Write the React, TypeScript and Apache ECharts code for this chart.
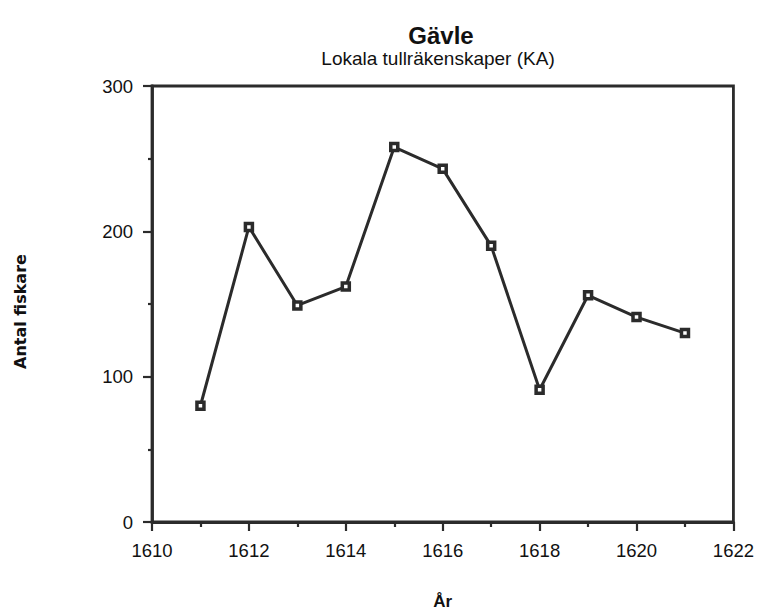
import React, { useEffect, useRef } from "react";
import * as echarts from "echarts";

const years = [1611, 1612, 1613, 1614, 1615, 1616, 1617, 1618, 1619, 1620, 1621];
const fiskare = [80, 203, 149, 162, 258, 243, 190, 91, 156, 141, 130];
const titleText = "Gävle";
const subtitleText = "Lokala tullräkenskaper (KA)";
const yName = "Antal fiskare";
const xName = "År";

const FONT = "'Liberation Sans', Arial, Helvetica, sans-serif";
const INK = "#2b2b2b";

export default function App() {
  const ref = useRef<HTMLDivElement>(null);
  useEffect(() => {
    if (!ref.current) return;
    const chart = echarts.init(ref.current, undefined, { renderer: "svg" });
    chart.setOption({
      animation: false,
      backgroundColor: "#ffffff",
      textStyle: { fontFamily: FONT },
      graphic: [
        {
          type: "text",
          x: 441,
          y: 35,
          style: {
            text: titleText,
            fontFamily: FONT,
            fontSize: 24,
            fontWeight: "bold",
            fill: "#111",
            align: "center",
            verticalAlign: "middle",
          },
        },
        {
          type: "text",
          x: 438,
          y: 58,
          style: {
            text: subtitleText,
            fontFamily: FONT,
            fontSize: 19,
            fill: "#111",
            align: "center",
            verticalAlign: "middle",
          },
        },
      ],
      grid: {
        left: 152,
        right: 22,
        top: 86,
        bottom: 88,
        show: true,
        borderColor: INK,
        borderWidth: 2.8,
        backgroundColor: "transparent",
      },
      xAxis: {
        type: "value",
        min: 1610,
        max: 1622,
        interval: 2,
        name: xName,
        nameLocation: "middle",
        nameGap: 71,
        nameTextStyle: { fontFamily: FONT, fontSize: 17, fontWeight: "bold", color: "#111" },
        axisLine: { show: true, lineStyle: { color: INK, width: 2.8 } },
        axisTick: { show: true, inside: false, length: 9, lineStyle: { color: INK, width: 2.2 } },
        minorTick: { show: true, splitNumber: 2, length: 5, lineStyle: { color: INK, width: 2.2 } },
        splitLine: { show: false },
        axisLabel: {
          margin: 19,
          fontFamily: FONT,
          fontSize: 18.5,
          color: "#111",
          formatter: (v: number) => String(v),
        },
      },
      yAxis: {
        type: "value",
        min: 0,
        max: 300,
        interval: 100,
        name: yName,
        nameLocation: "middle",
        nameGap: 124,
        nameTextStyle: {
          fontFamily: "'DejaVu Sans', sans-serif",
          fontSize: 16,
          fontWeight: "bold",
          color: "#111",
          padding: [0, 15, 0, 0],
        },
        axisLine: { show: true, lineStyle: { color: INK, width: 2.8 } },
        axisTick: { show: true, inside: false, length: 9, lineStyle: { color: INK, width: 2.2 } },
        minorTick: { show: true, splitNumber: 2, length: 4, lineStyle: { color: INK, width: 2.2 } },
        splitLine: { show: false },
        axisLabel: { margin: 19, fontFamily: FONT, fontSize: 18.5, color: "#111" },
      },
      series: [
        {
          type: "line",
          data: years.map((y, i) => [y, fiskare[i]]),
          symbol: "rect",
          symbolSize: 7,
          lineStyle: { color: INK, width: 3 },
          itemStyle: { color: "#ffffff", borderColor: INK, borderWidth: 3.5 },
        },
      ],
    });
    return () => chart.dispose();
  }, []);
  return (
    <div
      ref={ref}
      style={{ position: "fixed", left: 0, top: 0, width: 757, height: 615, background: "#fff" }}
    />
  );
}
